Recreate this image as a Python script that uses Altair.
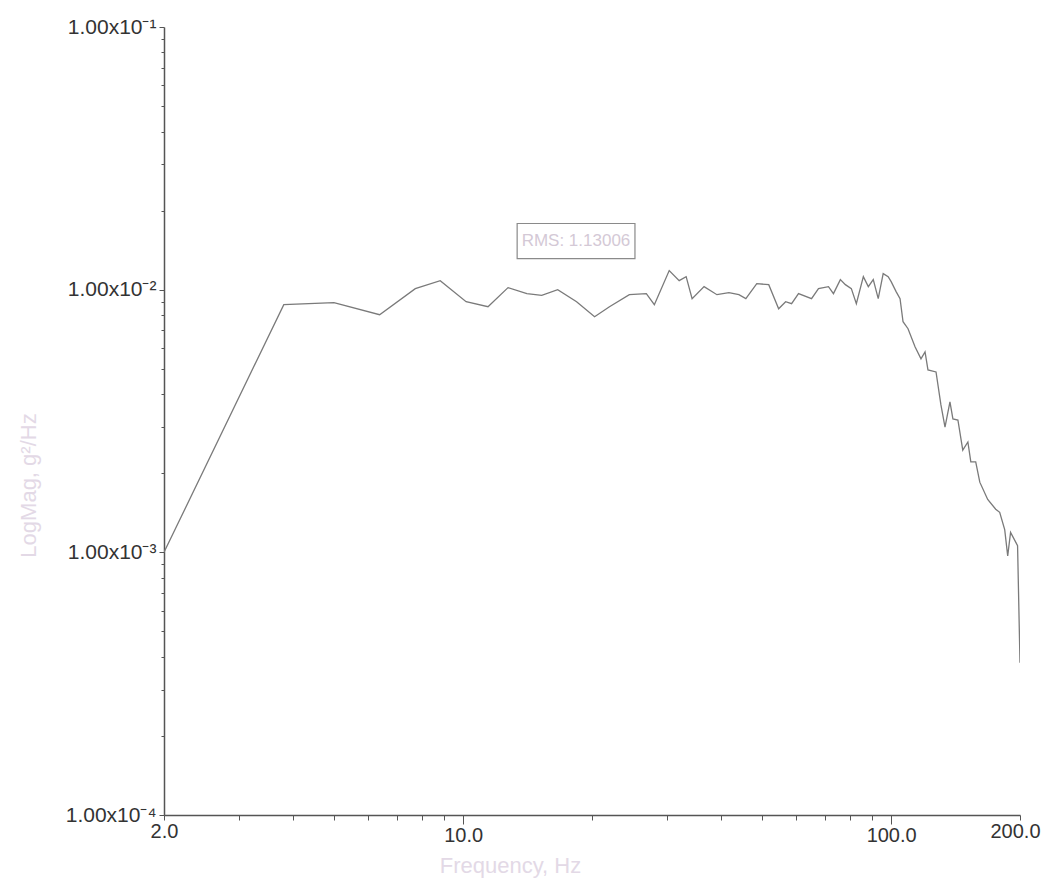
import altair as alt
import pandas as pd

freq = [2.0, 3.81, 4.99, 6.38, 7.73, 8.84, 10.16, 11.43, 12.73, 14.09, 15.26, 16.63,
        18.41, 20.28, 21.97, 24.45, 26.79, 27.97, 30.30, 31.97, 33.19, 34.27, 36.55,
        39.17, 41.78, 44.08, 45.76, 48.53, 51.76, 54.59, 56.68, 58.53, 60.75, 65.16,
        67.64, 71.38, 73.31, 76.09, 78.17, 80.72, 82.92, 86.10, 88.44, 90.82, 93.28,
        95.80, 98.40, 100.0, 102.7, 104.9, 106.6, 109.5, 113.7, 117.4, 120.0, 121.9,
        127.3, 130.7, 133.6, 137.2, 139.4, 143.2, 147.0, 151.1, 153.5, 157.6, 161.1,
        168.1, 175.5, 179.3, 184.2, 187.2, 190.1, 197.4, 200.0]
psd = [0.00100, 0.00877, 0.00892, 0.00803, 0.01009, 0.01082, 0.00900, 0.00861, 0.01018,
       0.00966, 0.00951, 0.01000, 0.00900, 0.00789, 0.00861, 0.00957, 0.00966, 0.00877,
       0.01182, 0.01082, 0.01121, 0.00924, 0.01027, 0.00957, 0.00974, 0.00957, 0.00924,
       0.01054, 0.01045, 0.00846, 0.00900, 0.00884, 0.00966, 0.00924, 0.01009, 0.01027,
       0.00966, 0.01092, 0.01045, 0.01009, 0.00884, 0.01121, 0.01027, 0.01092, 0.00924,
       0.01151, 0.01121, 0.01073, 0.00983, 0.00924, 0.00755, 0.00710, 0.00606, 0.00545,
       0.00580, 0.00495, 0.00486, 0.00364, 0.00300, 0.00374, 0.00322, 0.00319, 0.00245,
       0.00263, 0.00221, 0.00221, 0.00185, 0.00159, 0.00146, 0.00142, 0.00122, 0.00097,
       0.00119, 0.00106, 0.00038]

x_ticks = [2, 3, 4, 5, 6, 7, 8, 9, 10, 20, 30, 40, 50, 60, 70, 80, 90, 100, 200]
y_ticks = [1e-4, 2e-4, 3e-4, 4e-4, 5e-4, 6e-4, 7e-4, 8e-4, 9e-4,
           1e-3, 2e-3, 3e-3, 4e-3, 5e-3, 6e-3, 7e-3, 8e-3, 9e-3,
           1e-2, 2e-2, 3e-2, 4e-2, 5e-2, 6e-2, 7e-2, 8e-2, 9e-2, 1e-1]

rms_text = ["RMS: 1.13006"]

FONT = "Liberation Sans"

df = pd.DataFrame({"f": freq, "p": psd})

xscale = alt.Scale(type="log", domain=[2, 200], nice=False)
yscale = alt.Scale(type="log", domain=[1e-4, 1e-1], nice=False)

x_label_expr = ("datum.value == 2 ? '2.0' : datum.value == 10 ? '10.0' : "
                "datum.value == 100 ? '100.0' : datum.value == 200 ? '200.0' : ''")
y_label_expr = ("abs(datum.value - 0.1) < 1e-9 ? '1.00x10⁻¹' : "
                "abs(datum.value - 0.01) < 1e-10 ? '1.00x10⁻²' : "
                "abs(datum.value - 0.001) < 1e-11 ? '1.00x10⁻³' : "
                "abs(datum.value - 0.0001) < 1e-12 ? '1.00x10⁻⁴' : ''")
y_major = "abs(log(datum.value)/LN10 - round(log(datum.value)/LN10)) < 0.001"

line = alt.Chart(df).mark_line(color="#7a7a7a", strokeWidth=1.3, clip=True).encode(
    x=alt.X("f:Q", scale=xscale,
            axis=alt.Axis(title="Frequency, Hz", values=x_ticks, labelExpr=x_label_expr,
                          labelOverlap=False, labelFlush=False, grid=False,
                          tickSize={"condition": {"test": "datum.value == 10 || datum.value == 100",
                                                  "value": 9}, "value": 5},
                          labelOffset={"condition": {"test": "datum.value == 200", "value": -5},
                                       "value": 0},
                          tickColor="#555555", domainColor="#555555",
                          domainWidth=1.5, labelFont=FONT, labelFontSize=20,
                          labelColor="#333333", labelPadding=1,
                          titleFont=FONT, titleFontSize=22, titleFontWeight="normal",
                          titleColor="#e3d9e6", titleX=346, titleY=50,
                          titleBaseline="middle", titleAlign="center")),
    y=alt.Y("p:Q", scale=yscale,
            axis=alt.Axis(title="LogMag, g²/Hz", values=y_ticks, labelExpr=y_label_expr,
                          labelOverlap=False, labelFlush=False, grid=False,
                          tickSize={"condition": {"test": y_major, "value": 5}, "value": 3},
                          tickColor="#555555", domainColor="#555555",
                          domainWidth=1.5, labelFont=FONT, labelFontSize=21,
                          labelColor="#333333", labelPadding=3,
                          titleFont=FONT, titleFontSize=22, titleFontWeight="normal",
                          titleColor="#e3d9e6", titleX=-136, titleY=458,
                          titleAngle=270, titleBaseline="middle", titleAlign="center")),
)

box_df = pd.DataFrame({"f1": [13.37], "f2": [25.2], "p1": [0.01313], "p2": [0.01786],
                       "fc": [18.35], "pc": [0.0153], "t": rms_text})

box = alt.Chart(box_df).mark_rect(fill="white", stroke="#8a8a8a", strokeWidth=1.2).encode(
    x=alt.X("f1:Q", scale=xscale), x2="f2:Q",
    y=alt.Y("p1:Q", scale=yscale), y2="p2:Q",
)
txt = alt.Chart(box_df).mark_text(font=FONT, fontSize=17, color="#d4c9d6").encode(
    x=alt.X("fc:Q", scale=xscale), y=alt.Y("pc:Q", scale=yscale), text="t:N",
)

chart = alt.layer(line, box, txt).properties(
    width=856, height=788,
    background="white",
    autosize=alt.AutoSizeParams(type="none"),
    padding={"left": 156, "top": 19, "right": 21, "bottom": 65},
).configure_view(stroke=None)

chart.save("out.html", embed_options={"renderer": "svg", "actions": False})
